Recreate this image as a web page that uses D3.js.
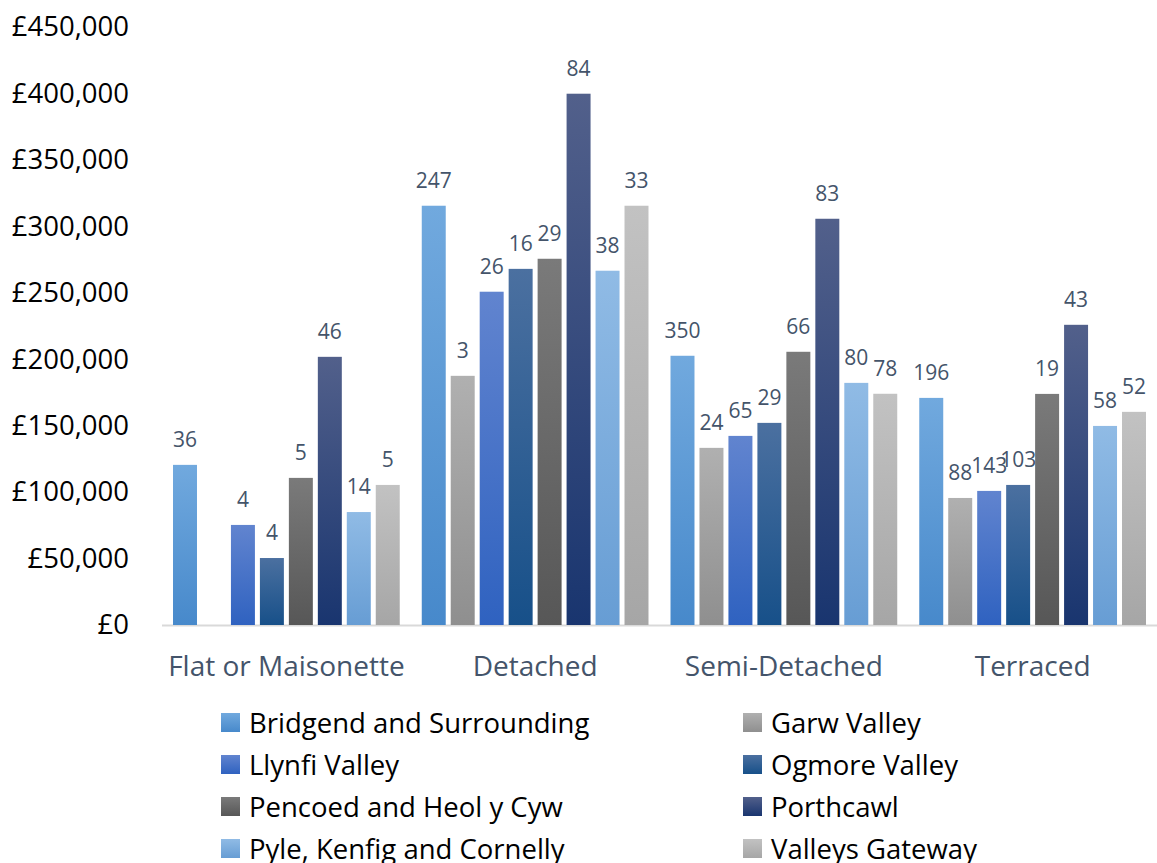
<!DOCTYPE html>
<html><head><meta charset="utf-8">
<script src="https://cdn.jsdelivr.net/npm/d3@7"></script>
<style>body{margin:0;background:#fff}svg{display:block}</style>
</head><body>
<svg id="c" width="1157" height="863"></svg>
<script>
const categories = ["Flat or Maisonette","Detached","Semi-Detached","Terraced"];
const seriesNames = ["Bridgend and Surrounding","Garw Valley","Llynfi Valley","Ogmore Valley","Pencoed and Heol y Cyw","Porthcawl","Pyle, Kenfig and Cornelly","Valleys Gateway"];
// average price per category, per series
const bridgend = [120500, 315500, 202600, 170900];
const garw     = [null,   187500, 133300, 95600];
const llynfi   = [75300,  250800, 142300, 100900];
const ogmore   = [50400,  268000, 152100, 105400];
const pencoed  = [110700, 275600, 205600, 173900];
const porthcawl= [201800, 399800, 305700, 225900];
const pyle     = [85000,  266600, 182200, 149800];
const valleys  = [105400, 315500, 174000, 160400];
// data labels (number of sales)
const bridgendN = [36, 247, 350, 196];
const garwN     = [null, 3, 24, 88];
const llynfiN   = [4, 26, 65, 143];
const ogmoreN   = [4, 16, 29, 103];
const pencoedN  = [5, 29, 66, 19];
const porthcawlN= [46, 84, 83, 43];
const pyleN     = [14, 38, 80, 58];
const valleysN  = [5, 33, 78, 52];
const yTicks = [0,50000,100000,150000,200000,250000,300000,350000,400000,450000];

const values = [bridgend,garw,llynfi,ogmore,pencoed,porthcawl,pyle,valleys];
const counts = [bridgendN,garwN,llynfiN,ogmoreN,pencoedN,porthcawlN,pyleN,valleysN];
const grads = [["#71a9de","#4789cb"],["#b0b0b0","#8f8f8f"],["#6184cf","#2f62c0"],["#4b70a0","#175089"],
               ["#7a7a7a","#575757"],["#52608b","#19356f"],["#90bbe5","#679dd4"],["#c2c2c2","#a6a6a6"]];

const svg = d3.select("#c");
const FONT = "'Open Sans', sans-serif";
const defs = svg.append("defs");
grads.forEach((g,i)=>{
  const lg = defs.append("linearGradient").attr("id","g"+i).attr("x1",0).attr("y1",0).attr("x2",0).attr("y2",1);
  lg.append("stop").attr("offset","0%").attr("stop-color",g[0]);
  lg.append("stop").attr("offset","100%").attr("stop-color",g[1]);
});

const x0 = d3.scaleBand().domain(categories).range([162,1157]).padding(0);
const x1 = d3.scaleBand().domain(d3.range(8)).range([0,x0.bandwidth()]).paddingInner(0.172).paddingOuter(0.38);
const y = d3.scaleLinear().domain([0,450000]).range([625,27]);

// y axis labels
const ya = svg.append("g").attr("transform","translate(129,0)")
  .call(d3.axisLeft(y).tickValues(yTicks).tickSize(0).tickPadding(0).tickFormat(d=>"£"+d3.format(",")(d)));
ya.select(".domain").remove();
ya.selectAll("text").attr("font-family",FONT).attr("font-size",27.5).attr("fill","#000");

// baseline
svg.append("line").attr("x1",162).attr("x2",1157).attr("y1",y(0)+0.5).attr("y2",y(0)+0.5).attr("stroke","#d9d9d9").attr("stroke-width",2);

// bars
const groups = svg.append("g").selectAll("g").data(categories).join("g")
  .attr("transform",d=>`translate(${x0(d)},0)`);
values.forEach((s,si)=>{
  groups.each(function(cat,ci){
    const v = s[ci]; if(v==null) return;
    const g = d3.select(this);
    g.append("rect").attr("x",x1(si)).attr("width",x1.bandwidth())
      .attr("y",y(v)).attr("height",y(0)-y(v)).attr("fill",`url(#g${si})`);
    g.append("text").attr("x",x1(si)+x1.bandwidth()/2).attr("y",y(v)-18)
      .attr("text-anchor","middle").attr("font-family",FONT).attr("font-size",21).attr("fill","#44546a")
      .text(counts[si][ci]);
  });
});

// x axis labels
const xa = svg.append("g").attr("transform",`translate(0,${y(0)})`)
  .call(d3.axisBottom(x0).tickSize(0).tickPadding(0));
xa.select(".domain").remove();
xa.selectAll("text").attr("dy",0).attr("y",51).attr("font-family",FONT).attr("font-size",28).attr("fill","#44546a");

// legend
const lg = svg.append("g");
seriesNames.forEach((n,i)=>{
  const col = i%2, row = Math.floor(i/2);
  const lx = col===0 ? 221 : 743, ly = 723 + row*42;
  lg.append("rect").attr("x",lx).attr("y",ly-10).attr("width",19).attr("height",19).attr("fill",`url(#g${i})`);
  lg.append("text").attr("x",lx+28).attr("y",ly).attr("dy","0.36em").attr("font-family",FONT).attr("font-size",27.5).attr("fill","#000").text(n);
});
</script>
</body></html>
